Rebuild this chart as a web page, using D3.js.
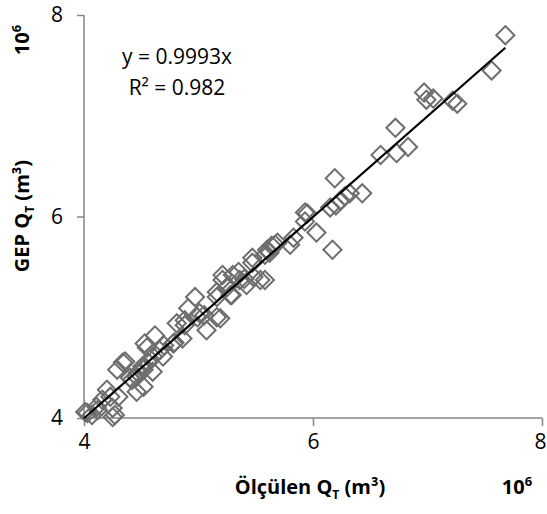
<!DOCTYPE html>
<html>
<head>
<meta charset="utf-8">
<script src="https://cdn.jsdelivr.net/npm/d3@7"></script>
<style>
  body { margin: 0; background: #fff; }
  text { font-family: "Open Sans", sans-serif; }
</style>
</head>
<body>
<script>
// measured (x) and GEP (y) values, in 10^6 m3
var olculen = [7.68, 7.56, 7.22, 7.26, 6.97, 6.99, 7.05, 6.72, 6.83, 6.73,
  6.59, 6.19, 6.43, 6.28, 6.32, 6.24, 6.20, 6.15, 5.93, 5.95,
  6.03, 6.17, 5.83, 5.80, 5.67, 5.60, 5.64, 5.69, 5.62, 5.47,
  5.54, 5.48, 5.36, 5.21, 5.25, 5.28, 5.30, 5.16, 4.97, 5.01,
  5.16, 5.07, 4.99, 4.81, 4.86, 4.78, 4.62, 4.53, 4.66, 4.69,
  4.60, 4.56, 4.52, 4.34, 4.29, 4.47, 4.42, 4.52, 4.20, 4.23,
  4.30, 4.16, 4.11, 4.25, 4.01, 4.07, 5.93, 5.47, 5.35, 5.21,
  5.58, 5.42, 5.16, 5.29, 5.19, 4.88, 4.91, 4.88, 4.55, 4.79,
  4.36, 4.51, 4.46, 4.60, 4.46, 4.25, 4.27, 4.12, 4.03, 5.58,
  5.40, 5.05, 4.40, 4.70];
var gep = [7.80, 7.45, 7.15, 7.12, 7.23, 7.16, 7.17, 6.88, 6.69, 6.63,
  6.61, 6.38, 6.23, 6.20, 6.23, 6.16, 6.11, 6.09, 6.04, 6.03,
  5.84, 5.67, 5.79, 5.72, 5.72, 5.67, 5.71, 5.74, 5.64, 5.59,
  5.37, 5.40, 5.37, 5.37, 5.30, 5.22, 5.42, 5.20, 5.20, 5.04,
  5.00, 4.87, 5.00, 4.94, 4.79, 4.74, 4.82, 4.74, 4.67, 4.61,
  4.61, 4.55, 4.48, 4.55, 4.48, 4.45, 4.38, 4.31, 4.28, 4.21,
  4.21, 4.18, 4.11, 4.01, 4.06, 4.03, 5.95, 5.54, 5.45, 5.42,
  5.37, 5.32, 5.25, 5.22, 4.99, 4.97, 5.09, 4.92, 4.70, 4.75,
  4.56, 4.51, 4.41, 4.46, 4.26, 4.10, 4.03, 4.08, 4.05, 5.62,
  5.38, 5.02, 4.40, 4.72];
var egim = 0.9993;
var tickDegerleri = [4, 6, 8];

var data = olculen.map(function (d, i) { return {x: d, y: gep[i]}; });

var width = 547, height = 514;
var margin = {top: 15, right: 5, bottom: 96, left: 84};

var svg = d3.select("body").append("svg")
  .attr("width", width)
  .attr("height", height);

var x = d3.scaleLinear().domain([4, 8]).range([margin.left, 542]);
var y = d3.scaleLinear().domain([4, 8]).range([418, margin.top]);

// eksenler
var ejeX = d3.axisBottom(x).tickValues(tickDegerleri).tickSize(8).tickPadding(8).tickFormat(d3.format("d"));
var ejeY = d3.axisLeft(y).tickValues(tickDegerleri).tickSize(7).tickPadding(14).tickFormat(d3.format("d"));

var gx = svg.append("g").attr("transform", "translate(0," + y(4) + ")").call(ejeX);
var gy = svg.append("g").attr("transform", "translate(" + x(4) + ",0)").call(ejeY);

[gx, gy].forEach(function (g) {
  g.select(".domain").attr("stroke", "#868686").attr("stroke-width", 1.5);
  g.selectAll(".tick line").attr("stroke", "#868686").attr("stroke-width", 1.5);
  g.selectAll(".tick text").attr("fill", "#000").style("font-size", "21px")
    .style("font-family", "'Open Sans', sans-serif");
});
gx.select(".domain").attr("d", "M" + x(4) + ",0H" + x(8));
gy.select(".domain").attr("d", "M0," + y(4) + "V" + y(8));
// son etiket kenara sigsin
gx.selectAll(".tick text").filter(function (d) { return d === 8; }).attr("dx", -2);

// noktalar (elmas)
var diamond = d3.symbol().type(d3.symbolSquare).size(165);
svg.append("g").selectAll("path")
  .data(data)
  .enter()
  .append("path")
  .attr("d", diamond)
  .attr("transform", function (d) { return "translate(" + x(d.x) + "," + y(d.y) + ") rotate(45)"; })
  .attr("fill", "none")
  .attr("stroke", "#6e6e6e")
  .attr("stroke-width", 2);

// trend cizgisi
var xmax = d3.max(olculen);
svg.append("line")
  .attr("x1", x(4)).attr("y1", y(4 * egim))
  .attr("x2", x(xmax)).attr("y2", y(xmax * egim))
  .attr("stroke", "#000")
  .attr("stroke-width", 2.2);

// denklem
svg.append("text").attr("x", 177).attr("y", 64).attr("text-anchor", "middle")
  .style("font-size", "21px").text("y = 0.9993x");
svg.append("text").attr("x", 177).attr("y", 95).attr("text-anchor", "middle")
  .style("font-size", "21px").text("R² = 0.982");

// eksen basliklari
var xt = svg.append("text").attr("x", 310).attr("y", 494).attr("text-anchor", "middle")
  .style("font-size", "20px").style("font-weight", "bold");
xt.append("tspan").text("Ölçülen Q");
xt.append("tspan").attr("dy", 5).style("font-size", "12px").text("T");
xt.append("tspan").attr("dy", -5).text(" (m³)");

svg.append("text").attr("x", 517).attr("y", 494).attr("text-anchor", "middle")
  .style("font-size", "20px").style("font-weight", "bold")
  .html("10<tspan dy='-8' font-size='13'>6</tspan>");

var yt = svg.append("text").attr("transform", "translate(29,216) rotate(-90)").attr("text-anchor", "middle")
  .style("font-size", "20px").style("font-weight", "bold");
yt.append("tspan").text("GEP Q");
yt.append("tspan").attr("dy", 5).style("font-size", "12px").text("T");
yt.append("tspan").attr("dy", -5).text(" (m³)");

svg.append("text").attr("transform", "translate(29,40) rotate(-90)").attr("text-anchor", "middle")
  .style("font-size", "20px").style("font-weight", "bold")
  .html("10<tspan dy='-8' font-size='13'>6</tspan>");
</script>
</body>
</html>
